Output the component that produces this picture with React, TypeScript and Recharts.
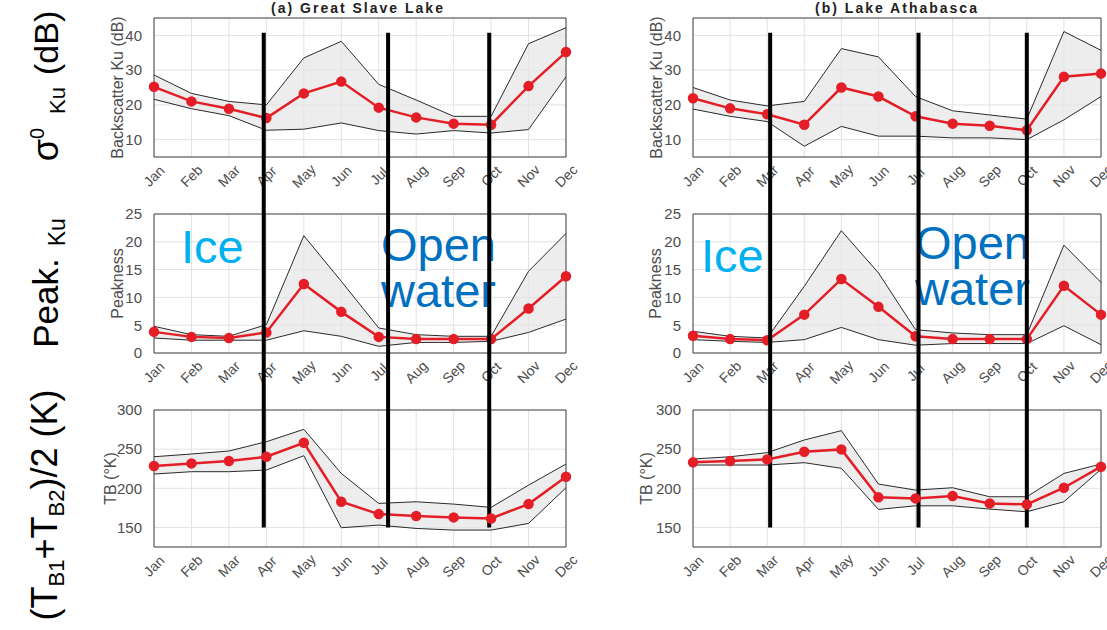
import React from 'react';
import { ComposedChart, Area, Line, XAxis, YAxis, CartesianGrid, ReferenceLine, ReferenceArea } from 'recharts';

const months = ['Jan', 'Feb', 'Mar', 'Apr', 'May', 'Jun', 'Jul', 'Aug', 'Sep', 'Oct', 'Nov', 'Dec'];

// (a) Great Slave Lake
const sigMeanA = [25.2, 21.0, 18.9, 16.2, 23.3, 26.7, 19.2, 16.4, 14.6, 14.3, 25.4, 35.2];
const sigMaxA = [28.6, 23.3, 21.0, 20.0, 33.5, 38.3, 25.9, 21.4, 16.7, 16.7, 37.6, 42.2];
const sigMinA = [21.6, 18.9, 16.9, 12.7, 13.0, 14.8, 12.6, 11.6, 12.6, 11.9, 12.9, 28.1];
const peakMeanA = [3.8, 2.9, 2.7, 3.7, 12.4, 7.4, 2.9, 2.5, 2.5, 2.5, 8.0, 13.8];
const peakMaxA = [4.8, 3.3, 3.0, 5.1, 21.1, 12.9, 4.5, 3.3, 3.0, 3.0, 14.7, 21.5];
const peakMinA = [2.7, 2.3, 2.3, 2.3, 4.0, 3.0, 1.2, 1.9, 1.9, 2.1, 3.7, 6.1];
const tbMeanA = [228.4, 231.8, 234.8, 240.3, 258.2, 182.8, 167.0, 164.5, 162.8, 161.5, 179.8, 214.8];
const tbMaxA = [240.3, 243.8, 247.6, 259.5, 275.3, 219.0, 180.7, 182.8, 179.8, 175.6, 204.0, 231.0];
const tbMinA = [218.2, 221.2, 221.2, 223.3, 241.6, 149.6, 153.0, 148.7, 146.6, 146.6, 155.1, 200.7];

// (b) Lake Athabasca
const sigMeanB = [21.9, 19.0, 17.3, 14.3, 25.0, 22.4, 16.7, 14.6, 14.0, 12.7, 28.1, 29.0];
const sigMaxB = [25.0, 21.4, 19.7, 21.0, 36.2, 33.8, 22.4, 18.3, 17.1, 15.9, 41.1, 35.7];
const sigMinB = [18.8, 16.7, 15.2, 8.1, 13.8, 11.0, 11.0, 10.5, 10.5, 10.0, 15.7, 22.4];
const peakMeanB = [3.1, 2.5, 2.3, 6.9, 13.3, 8.3, 3.0, 2.5, 2.5, 2.5, 12.1, 6.9];
const peakMaxB = [3.9, 3.0, 2.7, 12.0, 22.0, 14.4, 4.2, 3.6, 3.3, 3.3, 19.4, 12.7];
const peakMinB = [2.4, 2.1, 1.9, 2.4, 4.6, 2.4, 1.4, 1.7, 1.7, 1.7, 4.9, 1.5];
const tbMeanB = [233.1, 234.8, 236.9, 246.7, 249.7, 188.4, 187.1, 190.1, 180.7, 179.4, 200.7, 227.6];
const tbMaxB = [237.4, 240.3, 245.5, 261.7, 273.6, 205.4, 197.7, 200.7, 189.2, 189.2, 219.0, 231.0];
const tbMinB = [229.7, 229.7, 229.7, 232.7, 225.5, 173.0, 177.6, 177.6, 173.4, 170.0, 182.8, 224.2];

// season boundaries (month index)
const boundsA = [2.93, 6.25, 8.95];
const boundsB = [2.08, 6.08, 9.0];

const sigTicks = [10, 20, 30, 40];
const peakTicks = [0, 5, 10, 15, 20, 25];
const tbTicks = [150, 200, 250, 300];

const RED = '#e41e26';

const MonthTick = (props: any) => {
  const { x, y, payload } = props;
  const cy = y + 19;
  return (
    <text x={x} y={cy} transform={`rotate(-45 ${x} ${cy})`} textAnchor="middle" dominantBaseline="central" fontSize={14} fill="#4d4d4d">
      {months[payload.value]}
    </text>
  );
};

function Panel(props: any) {
  const { left, top, width, height, mt, xh, mr, mean, max, min, domain, ticks, yLabel, labelDx, bounds, lineTop, lineBottom, z } = props;
  const data = months.map((_, i) => ({ m: i, mean: mean[i], max: max[i], min: min[i], band: [min[i], max[i]] }));
  return (
    <div style={{ position: 'absolute', left, top, zIndex: z || 1 }}>
      <ComposedChart width={width} height={height} data={data} margin={{ top: mt, right: mr, bottom: 0, left: 0 }}>
        <CartesianGrid stroke="#e2e2e2" />
        <XAxis type="number" dataKey="m" domain={[0, 11]} ticks={months.map((_, i) => i)} interval={0}
          tick={<MonthTick />} tickLine={false} axisLine={false} tickSize={0} tickMargin={0} height={xh} />
        <YAxis domain={domain} ticks={ticks} width={60} tickLine={false} axisLine={false} tickSize={0} tickMargin={12}
          tick={{ fontSize: 15, fill: '#4d4d4d' }}
          label={{ value: yLabel, angle: -90, position: 'center', dx: labelDx, fontSize: 16, fill: '#4d4d4d' }} />
        <Area dataKey="band" fill="#e6e6e6" fillOpacity={0.7} stroke="none" isAnimationActive={false} />
        <ReferenceArea x1={0} x2={11} y1={domain[0]} y2={domain[1]} fill="none" stroke="#444" strokeWidth={1} />
        <Line dataKey="max" stroke="#2a2a2a" strokeWidth={1} dot={false} isAnimationActive={false} />
        <Line dataKey="min" stroke="#2a2a2a" strokeWidth={1} dot={false} isAnimationActive={false} />
        <Line dataKey="mean" stroke={RED} strokeWidth={2.5} dot={{ r: 4, fill: RED, stroke: RED }} isAnimationActive={false} />
        {bounds && bounds.map((b: number) => (
          <ReferenceLine key={b} segment={[{ x: b, y: lineBottom }, { x: b, y: lineTop }]} stroke="#000" strokeWidth={4} ifOverflow="visible" />
        ))}
      </ComposedChart>
    </div>
  );
}

const RowLabel = ({ cx, cy, children }: any) => (
  <div style={{ position: 'absolute', left: cx, top: cy, transform: 'translate(-50%, -50%) rotate(-90deg)', whiteSpace: 'nowrap', lineHeight: 1, color: '#000' }}>
    {children}
  </div>
);

const sub = (t: string, size: number, ml = 0) => (
  <span style={{ fontSize: size, position: 'relative', top: '0.3em', marginLeft: ml }}>{t}</span>
);

export default function App() {
  const colA = { left: 94, width: 482, mr: 10 };
  const colB = { left: 633, width: 474, mr: 6 };
  const row1 = { top: 0, height: 197, mt: 18, xh: 40 };
  const row2 = { top: 197, height: 193, mt: 17, xh: 37 };
  const row3 = { top: 390, height: 197, mt: 20, xh: 40 };
  const blueText = { position: 'absolute' as const, fontSize: 47, lineHeight: '46px', whiteSpace: 'nowrap' as const, zIndex: 2 };
  const title = { position: 'absolute' as const, top: 1, transform: 'translateX(-50%)', fontSize: 14, fontWeight: 'bold' as const, letterSpacing: 2, whiteSpace: 'nowrap' as const, color: '#222', lineHeight: 1 };
  return (
    <div style={{ position: 'absolute', left: 0, top: 0, width: 1107, height: 630, background: '#fff', overflow: 'hidden', fontFamily: '"Liberation Sans", Arial, sans-serif' }}>
      <style>{'.recharts-surface{overflow:visible}'}</style>

      <div style={{ ...title, left: 358 }}>(a) Great Slave Lake</div>
      <div style={{ ...title, left: 897 }}>(b) Lake Athabasca</div>

      <Panel {...colA} {...row1} mean={sigMeanA} max={sigMaxA} min={sigMinA} domain={[5, 45]} ticks={sigTicks} yLabel="Backscatter Ku (dB)" labelDx={-7} />
      <Panel {...colB} {...row1} mean={sigMeanB} max={sigMaxB} min={sigMinB} domain={[5, 45]} ticks={sigTicks} yLabel="Backscatter Ku (dB)" labelDx={-7} />
      <Panel {...colA} {...row2} mean={peakMeanA} max={peakMaxA} min={peakMinA} domain={[0, 25]} ticks={peakTicks} yLabel="Peakness" labelDx={-7} />
      <Panel {...colB} {...row2} mean={peakMeanB} max={peakMaxB} min={peakMinB} domain={[0, 25]} ticks={peakTicks} yLabel="Peakness" labelDx={-8} />

      <div style={{ ...blueText, left: 181, top: 224, color: '#00b0f0' }}>Ice</div>
      <div style={{ ...blueText, left: 701, top: 233, color: '#00b0f0' }}>Ice</div>
      <div style={{ ...blueText, left: 381, top: 222, color: '#0070c0' }}>Open<br />water</div>
      <div style={{ ...blueText, left: 915, top: 220, color: '#0070c0' }}>Open<br />water</div>

      <Panel {...colA} {...row3} mean={tbMeanA} max={tbMaxA} min={tbMinA} domain={[125, 300]} ticks={tbTicks} yLabel="TB (°K)" labelDx={-14}
        bounds={boundsA} lineBottom={150} lineTop={782} z={3} />
      <Panel {...colB} {...row3} mean={tbMeanB} max={tbMaxB} min={tbMinB} domain={[125, 300]} ticks={tbTicks} yLabel="TB (°K)" labelDx={-17}
        bounds={boundsB} lineBottom={150} lineTop={782} z={3} />

      <RowLabel cx={46} cy={86}>
        <span style={{ fontSize: 36 }}>σ</span>
        <span style={{ fontSize: 20, position: 'relative', top: '-0.7em' }}>0</span>
        {sub('Ku', 22, 14)}
        <span style={{ fontSize: 34, marginLeft: 12 }}>(dB)</span>
      </RowLabel>
      <RowLabel cx={45} cy={283}>
        <span style={{ fontSize: 35 }}>Peak.</span>
        {sub('Ku', 23, 12)}
      </RowLabel>
      <RowLabel cx={45} cy={505}>
        <span style={{ fontSize: 36 }}>(T</span>
        {sub('B1', 22)}
        <span style={{ fontSize: 36 }}>+T</span>
        {sub('B2', 22)}
        <span style={{ fontSize: 36 }}>)/2 (K)</span>
      </RowLabel>
    </div>
  );
}
